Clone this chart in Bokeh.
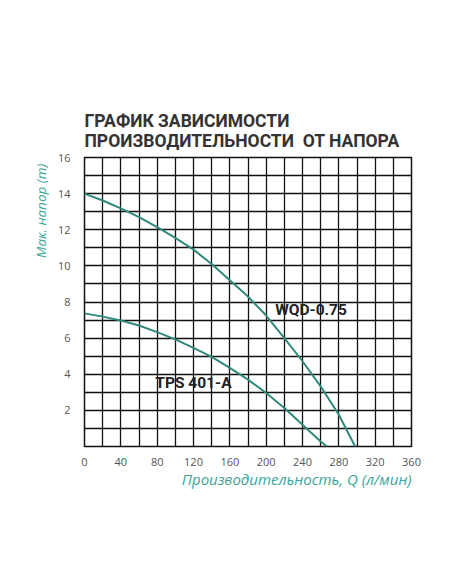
from bokeh.plotting import figure
from bokeh.models import FixedTicker, Label, Range1d
from bokeh.embed import file_html
from bokeh.resources import INLINE

# pump curves: flow (l/min) vs head (m)
wqd_q = [0, 20, 40, 60, 80, 100, 120, 140, 160, 180, 200, 220, 240, 260, 280, 298]
wqd_h = [14, 13.62, 13.18, 12.7, 12.15, 11.55, 10.9, 10.1, 9.2, 8.3, 7.25, 6.0, 4.72, 3.33, 1.76, 0]

tps_q = [0, 20, 40, 60, 80, 100, 120, 140, 160, 180, 200, 220, 240, 260, 267]
tps_h = [7.37, 7.19, 6.98, 6.7, 6.33, 5.93, 5.46, 4.96, 4.35, 3.7, 2.96, 2.13, 1.2, 0.28, 0]

x_ticks = [0, 40, 80, 120, 160, 200, 240, 280, 320, 360]
y_ticks = [2, 4, 6, 8, 10, 12, 14, 16]

NBSP = "\u00a0"
title_lines = ["ГРАФИК ЗАВИСИМОСТИ", "ПРОИЗВОДИТЕЛЬНОСТИ" + NBSP + NBSP + "ОТ НАПОРА"]
x_label = "Производительность, Q (л/мин)"
y_label = "Мак. напор (m)"

teal = "#2f8a7c"
label_teal = "#3aa596"

p = figure(width=436, height=568, output_backend="svg", toolbar_location=None,
           x_range=Range1d(0, 360), y_range=Range1d(0, 16),
           min_border_left=84, min_border_right=25, min_border_top=157, min_border_bottom=122)

p.outline_line_color = "#111111"
p.outline_line_width = 1.5

# two-line title
p.title.text = "\n".join(title_lines)
p.title.align = "left"
p.title.text_font = "Roboto"
p.title.text_font_style = "bold"
p.title.text_font_size = "17.5px"
p.title.text_color = "#333333"
p.title.standoff = 13

# grid: every 20 l/min and every 1 m
p.xgrid.ticker = FixedTicker(ticks=list(range(0, 361, 20)))
p.ygrid.ticker = FixedTicker(ticks=list(range(0, 17)))
for g in (p.xgrid, p.ygrid):
    g.grid_line_color = "#111111"
    g.grid_line_width = 1.3
    g.grid_line_alpha = 1

p.xaxis.ticker = FixedTicker(ticks=x_ticks)
p.yaxis.ticker = FixedTicker(ticks=y_ticks)
for ax in (p.xaxis, p.yaxis):
    ax.axis_line_color = None
    ax.major_tick_line_color = None
    ax.minor_tick_line_color = None
    ax.major_label_text_font = "Open Sans"
    ax.major_label_text_font_size = "11px"
    ax.major_label_text_color = "#555555"
    ax.axis_label_text_font = "Open Sans"
    ax.axis_label_text_font_style = "italic"
    ax.axis_label_text_color = label_teal
p.xaxis.major_label_standoff = 5
p.yaxis.major_label_standoff = 8
# labels sit off-centre in the reference: pad them with no-break spaces
p.xaxis.axis_label = NBSP * 25 + x_label
p.yaxis.axis_label = NBSP * 52 + y_label
p.xaxis.axis_label_text_font_size = "15px"
p.yaxis.axis_label_text_font_size = "13.5px"
p.xaxis.axis_label_standoff = 0
p.yaxis.axis_label_standoff = 5

p.line(wqd_q, wqd_h, line_color=teal, line_width=2)
p.line(tps_q, tps_h, line_color=teal, line_width=2)

p.add_layout(Label(x=210, y=7.55, text="WQD-0.75", text_font="Roboto", text_font_style="bold",
                   text_font_size="15.5px", text_color="#222222", text_baseline="middle"))
p.add_layout(Label(x=78, y=3.5, text="TPS 401-A", text_font="Roboto", text_font_style="bold",
                   text_font_size="15.5px", text_color="#222222", text_baseline="middle"))

open("out.html", "w").write(file_html(p, INLINE))
